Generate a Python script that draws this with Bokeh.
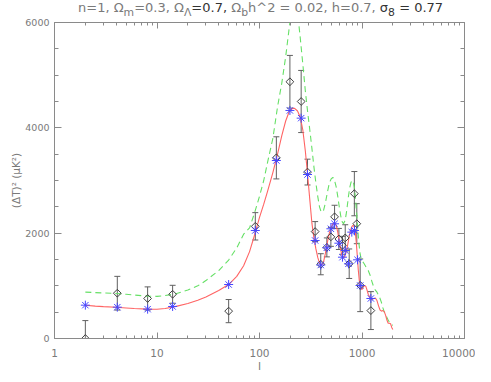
from bokeh.plotting import figure
from bokeh.models import (Range1d, LogAxis, LinearAxis, Div, Whisker, ColumnDataSource,
                          TeeHead, FixedTicker, NumeralTickFormatter)
from bokeh.layouts import column
from bokeh.embed import file_html
from bokeh.resources import INLINE

# ---- data ----
red_l = [2, 2.5, 3, 4, 5, 6, 8, 10, 12, 15, 20, 25, 30, 40, 50, 60, 70, 80, 90, 100, 110, 120,
         135, 150, 165, 180, 195, 210, 220, 235, 250, 265, 280, 295, 310, 325, 340, 355, 370,
         385, 400, 420, 440, 460, 480, 500, 520, 540, 560, 580, 600, 620, 640, 660, 680, 700,
         720, 740, 760, 780, 800, 820, 840, 860, 880, 900, 920, 940, 960, 980, 1000, 1030, 1060,
         1090, 1120, 1150, 1200, 1250, 1300, 1350, 1400, 1450, 1500, 1550, 1600, 1650, 1700,
         1750, 1800, 1850, 1900, 1950, 2000]
red_v = [630, 615, 605, 592, 580, 570, 557, 555, 570, 605, 665, 725, 790, 910, 1025, 1180, 1380,
         1650, 1980, 2300, 2550, 2800, 3150, 3500, 3850, 4130, 4310, 4370, 4370, 4320, 4200,
         3950, 3560, 3100, 2620, 2180, 1900, 1700, 1540, 1430, 1390, 1440, 1620, 1830, 2000,
         2110, 2180, 2200, 2150, 2020, 1850, 1680, 1570, 1530, 1560, 1640, 1750, 1870, 1990,
         2080, 2130, 2150, 2120, 2020, 1820, 1560, 1300, 1110, 1000, 950, 930, 980, 1010, 990,
         920, 840, 770, 740, 760, 770, 720, 620, 540, 520, 530, 510, 440, 350, 290, 290, 280,
         210, 170]

green_l = [2, 3, 4, 5, 6, 8, 10, 12, 15, 20, 25, 30, 40, 50, 60, 70, 80, 90, 100, 110, 120, 135,
           150, 165, 180, 195, 205, 220, 235, 250, 265, 280, 295, 310, 325, 340, 355, 370, 385,
           400, 420, 440, 460, 480, 500, 520, 540, 560, 580, 600, 620, 640, 660, 680, 700, 720,
           740, 760, 780, 800, 820, 840, 860, 880, 900, 920, 940, 960, 980, 1000, 1050, 1100,
           1150, 1200, 1250, 1300, 1350, 1400, 1450, 1500, 1550, 1600, 1650, 1700, 1750, 1800,
           1850, 1900, 1950, 2000]
green_v = [880, 865, 855, 840, 825, 805, 800, 815, 845, 920, 1000, 1100, 1290, 1490, 1720, 1980,
           2100, 2400, 2700, 3000, 3350, 3800, 4400, 4850, 5350, 5900, 6200, 6400, 6200, 5700,
           5200, 4700, 4300, 3950, 3600, 3250, 2950, 2700, 2500, 2400, 2420, 2580, 2780, 2950,
           3030, 3060, 3000, 2880, 2700, 2500, 2330, 2220, 2180, 2230, 2350, 2530, 2720, 2870,
           2960, 3000, 2980, 2880, 2700, 2450, 2200, 1950, 1750, 1600, 1520, 1480, 1420, 1350,
           1290, 1200, 1080, 980, 920, 880, 820, 760, 680, 580, 500, 450, 400, 350, 310, 280,
           260, 250]

obs_l = [2, 4.1, 8.1, 14.2, 50, 91, 146, 198, 255, 294, 349, 396, 454, 497, 540, 595, 645,
         686, 750, 842, 890, 960, 1221]
obs_v = [0, 860, 760, 840, 520, 2130, 3430, 4875, 4500, 3160, 2030, 1410, 1730, 1930, 2310,
         1890, 1770, 1910, 1420, 2750, 2180, 1010, 530]
obs_e = [340, 320, 220, 170, 220, 260, 400, 500, 590, 245, 190, 200, 180, 180, 220, 200, 170,
         250, 280, 420, 380, 500, 360]

mod_l = [2, 4.1, 8.1, 14.2, 50, 91, 146, 198, 255, 294, 349, 396, 454, 497, 540, 595, 645,
         686, 738, 795, 845, 905, 960, 1221]
mod_v = [633, 595, 557, 608, 1025, 2051, 3380, 4330, 4184, 3114, 1861, 1395, 1722, 2083, 2178,
         1810, 1544, 1671, 1418, 2020, 2051, 1494, 1006, 760]

x_ticks = [1, 10, 100, 1000, 10000]
y_ticks = [0, 2000, 4000, 6000]

AX = "#8a8a8a"
TXT = "#7a7a7a"
FONT = "DejaVu Sans"

p = figure(width=475, height=368, x_axis_type="log",
           x_range=Range1d(1, 10000), y_range=Range1d(0, 6000),
           output_backend="svg", toolbar_location=None, margin=0,
           min_border_left=54, min_border_right=11, min_border_top=15, min_border_bottom=36)
p.grid.visible = False
p.outline_line_color = None
p.background_fill_color = "white"
p.border_fill_color = "white"

x_minor = [k * 10 ** d for d in range(4) for k in range(2, 10)]
y_minor = list(range(0, 6001, 500))


def style_axis(ax):
    ax.axis_line_color = AX
    ax.major_tick_line_color = AX
    ax.minor_tick_line_color = AX
    ax.major_tick_out = 0
    ax.minor_tick_out = 0
    ax.major_label_text_color = TXT
    ax.major_label_text_font = FONT
    ax.axis_label_text_color = TXT
    ax.axis_label_text_font = FONT
    ax.axis_label_text_font_style = "normal"


xa = p.xaxis[0]
xa.ticker = FixedTicker(ticks=x_ticks, minor_ticks=x_minor)
xa.formatter = NumeralTickFormatter(format="0")
style_axis(xa)
xa.major_tick_in = 6
xa.minor_tick_in = 3
xa.major_label_text_font_size = "10.5px"
xa.major_label_standoff = 10
xa.axis_label = "l"
xa.axis_label_text_font_size = "11px"
xa.axis_label_standoff = 0

ya = p.yaxis[0]
ya.ticker = FixedTicker(ticks=y_ticks, minor_ticks=y_minor)
ya.formatter = NumeralTickFormatter(format="0")
style_axis(ya)
ya.major_tick_in = 7
ya.minor_tick_in = 4
ya.major_label_text_font_size = "9.5px"
ya.major_label_standoff = 5
ya.axis_label = "(ΔT)² (μK²)"
ya.axis_label_text_font_size = "10.5px"
ya.axis_label_standoff = 0

# box axes on top and right: ticks only (labels fully transparent)
top = LogAxis(ticker=FixedTicker(ticks=x_ticks, minor_ticks=x_minor))
style_axis(top)
top.major_tick_in = 6
top.minor_tick_in = 3
top.major_label_text_alpha = 0
top.major_label_text_font_size = "2px"
p.add_layout(top, "above")

right = LinearAxis(ticker=FixedTicker(ticks=y_ticks, minor_ticks=y_minor))
style_axis(right)
right.major_tick_in = 7
right.minor_tick_in = 4
right.major_label_text_alpha = 0
right.major_label_text_font_size = "2px"
p.add_layout(right, "right")

# curves
p.line(green_l, green_v, line_color="#66e066", line_width=1.1, line_dash="6 4")
p.line(red_l, red_v, line_color="#ff6464", line_width=1.1)

# error bars and observations
obs = ColumnDataSource(dict(l=obs_l, v=obs_v,
                            lo=[max(0, v - e) for v, e in zip(obs_v, obs_e)],
                            hi=[v + e for v, e in zip(obs_v, obs_e)]))
w = Whisker(source=obs, base="l", lower="lo", upper="hi", dimension="height",
            line_color="#606060", line_width=1,
            upper_head=TeeHead(size=6, line_color="#606060", line_width=1),
            lower_head=TeeHead(size=6, line_color="#606060", line_width=1))
p.add_layout(w)
p.scatter("l", "v", source=obs, marker="square", angle=0.785398, size=5.5,
          fill_color=None, line_color="#404040", line_width=1)

# model band powers
p.scatter(mod_l, mod_v, marker="asterisk", size=9, line_color="#4646ff", line_width=1)

# title with sub-scripts
DK = "#333333"
title_html = (
    f'n=1, Ω<sub>m</sub>=0.3, Ω<sub>Λ</sub><span style="color:{DK}">=0.7,</span> '
    f'Ω<sub>b</sub>h^2 = 0.02, h=0.7, '
    f'<span style="color:{DK}">σ<sub>8</sub> = 0.77</span>'
)
title = Div(text=title_html, width=475, height=7, margin=0,
            styles={"font-family": FONT, "font-size": "13px", "color": TXT,
                    "white-space": "nowrap", "padding-left": "78px", "line-height": "14px",
                    "padding-top": "1px", "overflow": "visible", "z-index": "10"})

open("out.html", "w").write(file_html(column(title, p, spacing=0), INLINE))
